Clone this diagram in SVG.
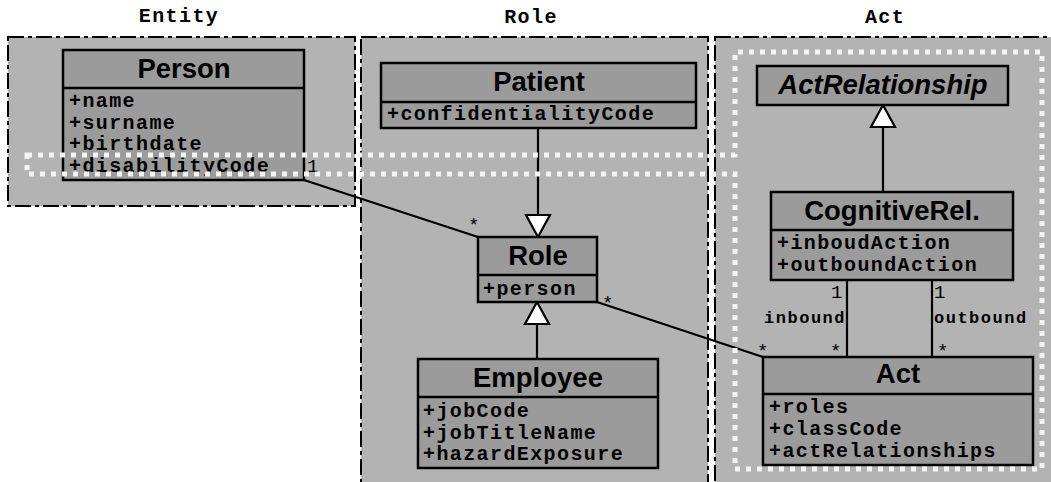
<svg xmlns="http://www.w3.org/2000/svg" width="1051" height="482" viewBox="0 0 1051 482">
<style>
.bg{fill:#ffffff}
.panel{fill:#b3b3b3;stroke:#000;stroke-width:2;stroke-dasharray:16 4 4 4}
.title{font-family:"Liberation Mono","Courier New",monospace;font-weight:bold;font-size:20px;letter-spacing:1.4px;text-anchor:middle;fill:#000}
.box{fill:#9b9b9b;stroke:#000;stroke-width:2.5}
.div{stroke:#000;stroke-width:2.5}
.hdr{font-family:"Liberation Sans",Arial,sans-serif;font-weight:bold;font-size:27.5px;text-anchor:middle;fill:#000}
.it{font-style:italic}
.attr{font-family:"Liberation Mono","Courier New",monospace;font-weight:bold;font-size:20px;letter-spacing:1.4px;fill:#000}
.line{stroke:#000;stroke-width:2.2;fill:none}
.tri{fill:#fff;stroke:#000;stroke-width:2.2}
.mult{font-family:"Liberation Mono","Courier New",monospace;font-size:19px;fill:#000}
.role{font-family:"Liberation Mono","Courier New",monospace;font-weight:bold;font-size:17px;letter-spacing:1.5px;fill:#000}
.dots{fill:none;stroke:#f4f4f4;stroke-width:5;stroke-dasharray:5 6}
</style>
<rect class="bg" x="0" y="0" width="1051" height="482"/>
<g id="panels">
<rect class="panel" x="8" y="37" width="347" height="169"/>
<rect class="panel" x="361" y="37" width="347" height="460"/>
<rect class="panel" x="715" y="37" width="350" height="460"/>
<text class="title" x="179" y="22">Entity</text>
<text class="title" x="531" y="23">Role</text>
<text class="title" x="885" y="23">Act</text>
</g>
<g id="connectors">
<line class="line" x1="304" y1="180" x2="478" y2="237"/>
<line class="line" x1="597" y1="302" x2="763" y2="357"/>
<line class="line" x1="538" y1="128" x2="538" y2="215"/>
<polygon class="tri" points="526,215 550,215 538,237"/>
<line class="line" x1="537" y1="324" x2="537" y2="359"/>
<polygon class="tri" points="525,324 549,324 537,302"/>
<line class="line" x1="883" y1="127" x2="883" y2="192"/>
<polygon class="tri" points="871,127 895,127 883,105"/>
<line class="line" x1="847" y1="280" x2="847" y2="357"/>
<line class="line" x1="932" y1="280" x2="932" y2="357"/>
<text class="mult" x="307" y="172">1</text>
<text class="mult" x="468" y="231">*</text>
<text class="mult" x="602" y="309">*</text>
<text class="mult" x="757" y="357">*</text>
<text class="mult" x="831" y="298">1</text>
<text class="mult" x="934" y="298">1</text>
<text class="role" x="846" y="323" text-anchor="end">inbound</text>
<text class="role" x="934" y="323">outbound</text>
<text class="mult" x="830" y="357">*</text>
<text class="mult" x="937" y="357">*</text>
</g>
<g id="Person">
<rect class="box" x="63" y="50" width="241" height="130"/>
<line class="div" x1="63" y1="88" x2="304" y2="88"/>
<text class="hdr" x="184" y="78">Person</text>
<text class="attr" x="69" y="107">+name</text>
<text class="attr" x="69" y="128.5">+surname</text>
<text class="attr" x="69" y="150">+birthdate</text>
<text class="attr" x="69" y="171.5">+disabilityCode</text>
</g>
<g id="Patient">
<rect class="box" x="381" y="63" width="315" height="65"/>
<line class="div" x1="381" y1="102" x2="696" y2="102"/>
<text class="hdr" x="539" y="91">Patient</text>
<text class="attr" x="387" y="120">+confidentialityCode</text>
</g>
<g id="Role">
<rect class="box" x="478" y="237" width="119" height="65"/>
<line class="div" x1="478" y1="275" x2="597" y2="275"/>
<text class="hdr" x="538" y="265">Role</text>
<text class="attr" x="483" y="295">+person</text>
</g>
<g id="Employee">
<rect class="box" x="418" y="359" width="240" height="109"/>
<line class="div" x1="418" y1="397" x2="658" y2="397"/>
<text class="hdr" x="538" y="387">Employee</text>
<text class="attr" x="423" y="417">+jobCode</text>
<text class="attr" x="423" y="438.5">+jobTitleName</text>
<text class="attr" x="423" y="460">+hazardExposure</text>
</g>
<g id="ActRelationship">
<rect class="box" x="757" y="66" width="251" height="39"/>
<text class="hdr it" x="883" y="94">ActRelationship</text>
</g>
<g id="CognitiveRel">
<rect class="box" x="771" y="192" width="242" height="88"/>
<line class="div" x1="771" y1="230" x2="1013" y2="230"/>
<text class="hdr" x="892" y="220">CognitiveRel.</text>
<text class="attr" x="777" y="249">+inboudAction</text>
<text class="attr" x="777" y="271">+outboundAction</text>
</g>
<g id="Act">
<rect class="box" x="763" y="357" width="270" height="108"/>
<line class="div" x1="763" y1="394" x2="1033" y2="394"/>
<text class="hdr" x="898" y="383">Act</text>
<text class="attr" x="769" y="413">+roles</text>
<text class="attr" x="769" y="435">+classCode</text>
<text class="attr" x="769" y="457">+actRelationships</text>
</g>
<g id="grouping">
<path class="dots" d="M27,155 H735 V52 H1042 V469 H735 V174 H27 Z"/>
</g>
</svg>
